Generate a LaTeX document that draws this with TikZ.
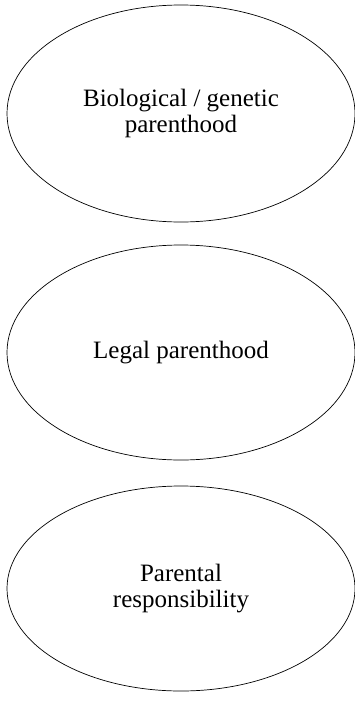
\documentclass[tikz,border=0pt]{standalone}
\usepackage{fontspec}
\setmainfont{Liberation Serif}
\usetikzlibrary{shapes.geometric}
\tikzset{
	oval/.style={ellipse, draw=black, line width=0.7pt, minimum width=348pt, inner sep=0pt, align=center, font=\fontsize{25}{26}\selectfont}
}

\begin{document}
\begin{tikzpicture}[x=1pt, y=1pt]
		%%%%% START %%%%%
		
		\useasboundingbox (0, 0) rectangle (355, -702);
		
		\node[oval, minimum height=217pt] (bio) at (181, -113.5) {Biological / genetic\\parenthood};
		
		\node[oval, minimum height=215pt] (legal) at (181, -352.5) {Legal parenthood};
		
		\node[oval, minimum height=205pt] (resp) at (181, -588.5) {Parental\\responsibility};
		
		%%%%% END %%%%%
	\end{tikzpicture}
\end{document}
